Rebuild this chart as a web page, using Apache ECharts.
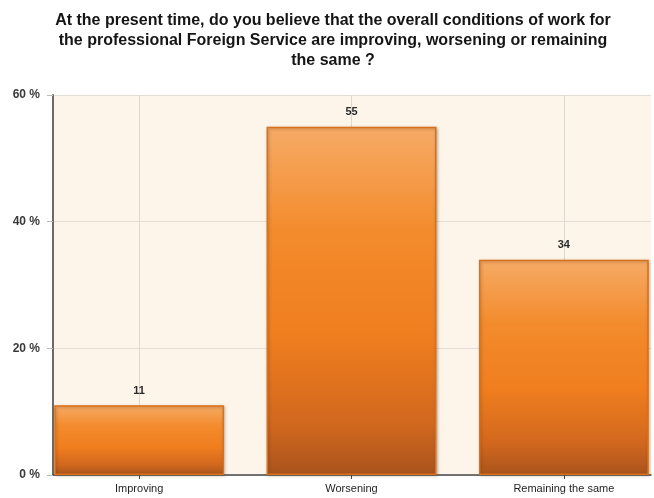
<!DOCTYPE html>
<html>
<head>
<meta charset="utf-8">
<style>
  html, body { margin: 0; padding: 0; background: #ffffff; overflow: hidden; }
  /* canvas runs a little past the right edge so the last category keeps full pitch */
  #chart { width: 670px; height: 498px; }
</style>
<script src="https://cdn.jsdelivr.net/npm/echarts@6/dist/echarts.min.js"></script>
</head>
<body>
<div id="chart"></div>
<script>
// Survey answers (percent of respondents)
const categories = ['Improving', 'Worsening', 'Remaining the same'];
const shares = [11, 55, 34];
const yTicks = [0, 20, 40, 60];

const titleText = 'At the present time, do you believe that the overall conditions of work for\n' +
  'the professional Foreign Service are improving, worsening or remaining\n' +
  'the same ?';

const font = '"Liberation Sans", Arial, Helvetica, sans-serif';
const plotTop = 95, plotBottom = 23;

const chart = echarts.init(document.getElementById('chart'), null, { renderer: 'canvas' });

const barFill = new echarts.graphic.LinearGradient(0, 0, 0, 1, [
  { offset: 0, color: '#f6ab66' },
  { offset: 0.3, color: '#f38b2c' },
  { offset: 0.6, color: '#f07e1f' },
  { offset: 0.85, color: '#d2681e' },
  { offset: 1, color: '#a9531c' }
]);

chart.setOption({
  animation: false,
  backgroundColor: '#ffffff',
  title: {
    text: titleText,
    left: 328,
    top: 6,
    textAlign: 'center',
    textStyle: {
      fontFamily: font,
      fontSize: 16,
      fontWeight: 'bold',
      lineHeight: 20,
      color: '#151515'
    }
  },
  grid: [
    // frame: value axis, background and horizontal rules
    { left: 53, right: 19, top: plotTop, bottom: plotBottom, show: true,
      backgroundColor: '#fdf5e9', borderWidth: 0 },
    // bars: categories laid out at a fixed pitch
    { left: 33, right: 0, top: plotTop, bottom: plotBottom }
  ],
  xAxis: [
    { type: 'category', gridIndex: 0, data: categories,
      axisLine: { show: true, lineStyle: { color: '#4a4a4a', width: 1.5 } },
      axisTick: { show: false }, axisLabel: { show: false }, splitLine: { show: false } },
    { type: 'category', gridIndex: 1, data: categories,
      axisLine: { show: false },
      axisTick: { show: true, alignWithLabel: true, length: 4, lineStyle: { color: '#444' } },
      axisLabel: { fontFamily: font, fontSize: 11, color: '#1e1e1e', margin: 8 },
      splitLine: { show: false } }
  ],
  yAxis: [
    { type: 'value', gridIndex: 0, min: yTicks[0], max: yTicks[yTicks.length - 1], interval: 20,
      axisLine: { show: true, lineStyle: { color: '#6a6a6a', width: 2 } },
      axisTick: { show: true, length: 6, lineStyle: { color: '#bbb' } },
      axisLabel: { formatter: '{value} %', fontFamily: font, fontSize: 12, fontWeight: 'bold',
        color: '#3a3a3a', margin: 13 },
      splitLine: { show: true, lineStyle: { color: '#e2ddd6', width: 1 } } },
    { type: 'value', gridIndex: 1, min: yTicks[0], max: yTicks[yTicks.length - 1], interval: 20,
      show: false }
  ],
  series: [
    {
      // vertical guide lines through each category
      type: 'line', xAxisIndex: 1, yAxisIndex: 1, z: 1, data: [],
      markLine: {
        z: 1,
        silent: true, symbol: 'none', label: { show: false },
        lineStyle: { color: '#dcd8d2', type: 'solid', width: 1 },
        data: categories.map(c => ({ xAxis: c }))
      }
    },
    {
      type: 'bar', xAxisIndex: 1, yAxisIndex: 1, z: 3,
      data: shares,
      barWidth: '80%',
      itemStyle: {
        color: barFill,
        borderColor: '#d9711d',
        borderWidth: 1.5,
        shadowColor: 'rgba(90,50,10,0.35)',
        shadowBlur: 3,
        shadowOffsetX: 1,
        shadowOffsetY: 1
      },
      label: {
        show: true, position: 'top', distance: 9,
        fontFamily: font, fontSize: 11, fontWeight: 'bold', color: '#2a2a2a'
      }
    }
  ]
});
</script>
</body>
</html>
